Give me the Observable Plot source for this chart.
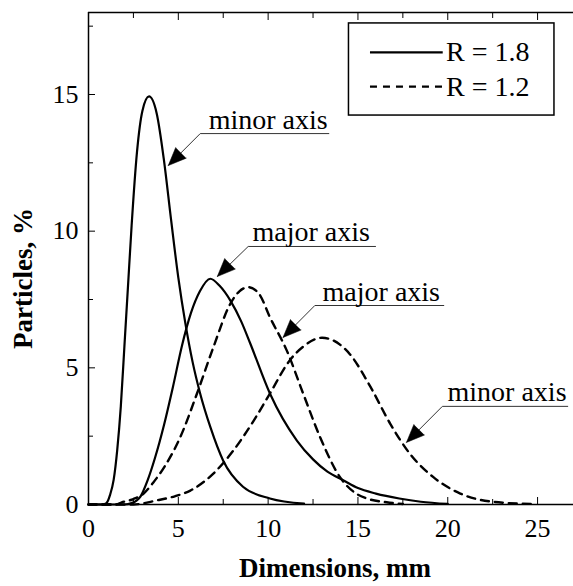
<!DOCTYPE html>
<html><head><meta charset="utf-8">
<script src="https://cdn.jsdelivr.net/npm/d3@7"></script>
<script src="https://cdn.jsdelivr.net/npm/@observablehq/plot@0.6"></script>
<style>
html,body{margin:0;padding:0;background:#fff;}
#chart svg{display:block}
</style></head><body><div id="chart"></div>
<script>
// R = 1.8, minor axis (solid)
const x18Minor = [0, 0.8, 1.0, 1.2, 1.4, 1.6, 1.8, 2.0, 2.2, 2.4, 2.7, 3.0, 3.37, 3.8, 4.2, 4.6, 5.0, 5.4, 5.8, 6.2, 6.8, 7.5, 8.6, 10.1, 12.0];
const y18Minor = [0, 0, 0.05, 0.35, 0.9, 2.0, 3.6, 5.8, 8.0, 10.2, 12.9, 14.4, 14.93, 14.3, 12.6, 10.4, 8.3, 6.6, 5.2, 4.1, 2.8, 1.6, 0.65, 0.22, 0.03];
// R = 1.8, major axis (solid)
const x18Major = [0, 2.0, 2.4, 2.9, 3.3, 3.7, 4.2, 4.7, 5.2, 5.7, 6.2, 6.78, 7.3, 7.9, 8.5, 9.0, 10.1, 11.6, 12.5, 13.3, 14.2, 15.0, 16.0, 17.3, 18.5, 20.0];
const y18Major = [0, 0, 0.05, 0.3, 0.9, 1.7, 2.9, 4.3, 5.8, 7.0, 7.8, 8.26, 8.0, 7.46, 6.7, 5.9, 4.06, 2.34, 1.65, 1.2, 0.88, 0.6, 0.4, 0.22, 0.1, 0.02];
// R = 1.2, major axis (dashed)
const x12Major = [0, 1.5, 1.85, 2.5, 3.07, 3.6, 4.2, 5.1, 6.04, 6.95, 7.9, 8.4, 8.9, 9.5, 10.1, 11.04, 11.95, 12.9, 14.0, 14.9, 15.5, 16.6, 17.5];
const y12Major = [0, 0, 0.08, 0.2, 0.4, 0.8, 1.35, 2.45, 4.06, 5.75, 7.35, 7.8, 7.95, 7.7, 6.85, 5.63, 4.06, 2.45, 1.0, 0.4, 0.22, 0.08, 0.02];
// R = 1.2, minor axis (dashed)
const x12Minor = [0, 2.5, 3.8, 4.8, 5.67, 6.95, 8.07, 9.2, 10.1, 11.2, 12.0, 13.0, 14.0, 14.55, 15.7, 16.8, 17.9, 19.2, 20.7, 22.5, 24.7];
const y12Minor = [0, 0, 0.15, 0.3, 0.51, 1.13, 1.98, 3.07, 4.06, 5.27, 5.8, 6.1, 5.85, 5.5, 4.3, 2.95, 1.85, 1.0, 0.4, 0.1, 0.02];

const xMajorTicks = [0, 5, 10, 15, 20, 25];
const xMinorTicks = [2.5, 7.5, 12.5, 17.5, 22.5];
const yMajorTicks = [0, 5, 10, 15];
const yMinorTicks = [2.5, 7.5, 12.5, 17.5];

const legendLabels = ["R = 1.8", "R = 1.2"];

// annotations
const annoLabels = ["minor axis", "major axis", "major axis", "minor axis"];
const annoTextX = [10.0, 12.4, 16.3, 23.3];
const annoLineY = [13.57, 9.44, 7.28, 3.59];
const annoLineX1 = [6.22, 8.89, 12.6, 19.7];
const annoLineX2 = [13.4, 16.0, 19.8, 26.7];
const annoTipX = [4.44, 7.17, 10.83, 17.7];
const annoTipY = [12.4, 8.34, 6.11, 2.27];

const series = [
  {key: "18minor", xs: x18Minor, ys: y18Minor, dashed: false},
  {key: "18major", xs: x18Major, ys: y18Major, dashed: false},
  {key: "12major", xs: x12Major, ys: y12Major, dashed: true},
  {key: "12minor", xs: x12Minor, ys: y12Minor, dashed: true}
];
const rows = series.flatMap(s => s.xs.map((x, i) => ({curve: s.key, x, y: s.ys[i], dashed: s.dashed})));
const solidRows = rows.filter(d => !d.dashed);
const dashedRows = rows.filter(d => d.dashed);

const annos = annoLabels.map((t, i) => ({
  t, tx: annoTextX[i], ly: annoLineY[i], lx1: annoLineX1[i], lx2: annoLineX2[i], px: annoTipX[i], py: annoTipY[i]
}));

// legend layout (data units)
const legBox = {x1: 14.5, x2: 25.94, y1: 14.23, y2: 17.6};
const legend = legendLabels.map((t, i) => ({t, y: i === 0 ? 16.54 : 15.29, dashed: i === 1}));

const font = '"Liberation Serif", "Times New Roman", serif';

const chart = Plot.plot({
  width: 573,
  height: 586,
  marginLeft: 88,
  marginRight: 0,
  marginTop: 12,
  marginBottom: 82,
  style: {fontFamily: font, fontSize: "26px", background: "white", color: "black", overflow: "visible"},
  x: {domain: [0, 27]},
  y: {domain: [0, 18]},
  marks: [
    // axes lines
    Plot.ruleY([0], {stroke: "black", strokeWidth: 1.5}),
    Plot.ruleY([18], {stroke: "black", strokeWidth: 1.5}),
    Plot.ruleX([0], {stroke: "black", strokeWidth: 1.5}),
    // bottom axis
    Plot.axisX({anchor: "bottom", ticks: xMajorTicks, tickSize: 0, tickPadding: 14, fontSize: 26, fontFamily: font, label: null}),
    Plot.axisX({anchor: "bottom", ticks: xMajorTicks, tickSize: -7, fill: "none", label: null}),
    Plot.axisX({anchor: "bottom", ticks: xMinorTicks, tickSize: -5, fill: "none", label: null}),
    // top axis
    Plot.axisX({anchor: "top", ticks: xMajorTicks, tickSize: -7, fill: "none", label: null}),
    Plot.axisX({anchor: "top", ticks: xMinorTicks, tickSize: -5, fill: "none", label: null}),
    // left axis
    Plot.axisY({anchor: "left", ticks: yMajorTicks, tickSize: 0, tickPadding: 10, fontSize: 26, fontFamily: font, label: null}),
    Plot.axisY({anchor: "left", ticks: yMajorTicks, tickSize: -7, fill: "none", label: null}),
    Plot.axisY({anchor: "left", ticks: yMinorTicks, tickSize: -5, fill: "none", label: null}),
    // curves
    Plot.line(solidRows, {x: "x", y: "y", z: "curve", curve: "monotone-x", stroke: "black", strokeWidth: 2.2}),
    Plot.line(dashedRows, {x: "x", y: "y", z: "curve", curve: "monotone-x", stroke: "black", strokeWidth: 2.4, strokeDasharray: "8,6"}),
    // annotations
    Plot.link(annos, {x1: "lx1", x2: "lx2", y1: "ly", y2: "ly", stroke: "#333", strokeWidth: 1}),
    Plot.link(annos, {x1: "lx1", y1: "ly", x2: "px", y2: "py", stroke: "#333", strokeWidth: 1}),
    Plot.vector(annos, {x: "px", y: "py", anchor: "end", rotate: 225, length: 18, r: 7.5, shape: "spike", fill: "black", stroke: "black", strokeWidth: 0.5}),
    Plot.text(annos, {x: "tx", y: "ly", text: "t", textAnchor: "middle", lineAnchor: "bottom", dy: -5, fontSize: 28, fontFamily: font, fill: "black"}),
    // legend
    Plot.rect([legBox], {x1: "x1", x2: "x2", y1: "y1", y2: "y2", fill: "white", stroke: "black", strokeWidth: 1.5}),
    Plot.link(legend.filter(d => !d.dashed), {x1: 15.67, x2: 19.72, y1: "y", y2: "y", stroke: "black", strokeWidth: 2.2}),
    Plot.link(legend.filter(d => d.dashed), {x1: 15.67, x2: 19.72, y1: "y", y2: "y", stroke: "black", strokeWidth: 2.2, strokeDasharray: "7,6"}),
    Plot.text(legend, {x: 19.9, y: "y", text: "t", textAnchor: "start", lineAnchor: "middle", fontSize: 28, fontFamily: font, fill: "black"}),
    // axis titles
    Plot.text(["Dimensions, mm"], {frameAnchor: "bottom", text: d => d, textAnchor: "middle", dx: 4, dy: 72, fontSize: 27, fontWeight: "bold", fontFamily: font, fill: "black"}),
    Plot.text(["Particles, %"], {frameAnchor: "left", text: d => d, textAnchor: "middle", rotate: -90, dx: -65, dy: 20, fontSize: 27, fontWeight: "bold", fontFamily: font, fill: "black"})
  ]
});
document.getElementById("chart").appendChild(chart);
</script>
</body></html>
